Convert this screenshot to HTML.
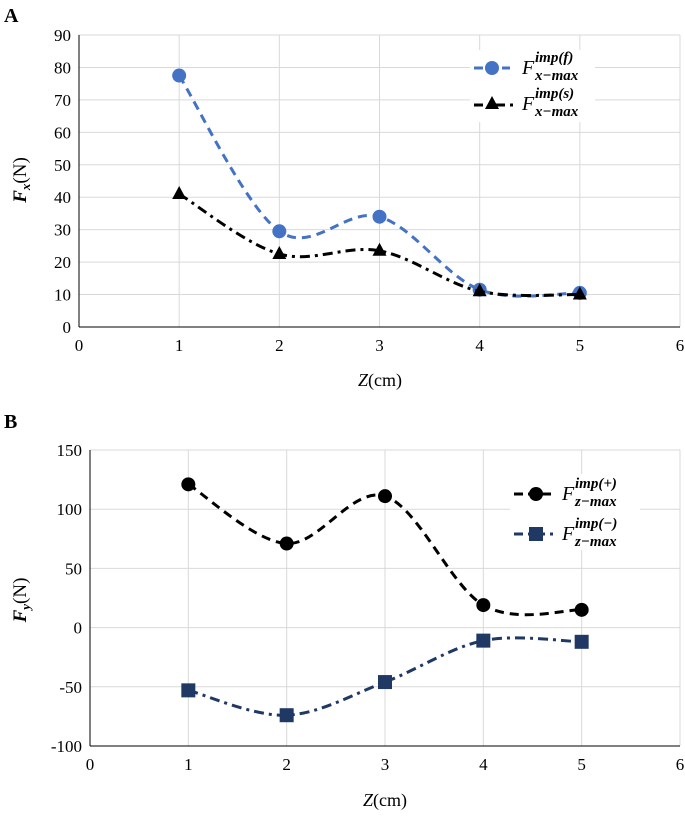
<!DOCTYPE html>
<html><head><meta charset="utf-8"><style>
body{margin:0;background:#fff}
svg text{font-family:"Liberation Serif",serif}
</style></head><body>
<svg id="s" width="685" height="814" xmlns="http://www.w3.org/2000/svg"></svg>
<script>
const xCats=[1,2,3,4,5];
const aF=[77.5,29.5,34,11.5,10.5];
const aS=[41,22.5,23.5,11,10];
const bP=[121,71,111,19,15];
const bM=[-53,-74,-46,-11,-12];
const aTicks=[0,10,20,30,40,50,60,70,80,90];
const bTicks=[-100,-50,0,50,100,150];
const xTicks=[0,1,2,3,4,5,6];
const NS='http://www.w3.org/2000/svg';
const svg=document.getElementById('s');
function mk(t,a,p){const e=document.createElementNS(NS,t);for(const k in a)e.setAttribute(k,a[k]);(p||svg).appendChild(e);return e;}
function spline(pts){let d='M'+pts[0][0]+','+pts[0][1];for(let i=0;i<pts.length-1;i++){const p0=pts[Math.max(0,i-1)],p1=pts[i],p2=pts[i+1],p3=pts[Math.min(pts.length-1,i+2)];const c1=[p1[0]+(p2[0]-p0[0])/6,p1[1]+(p2[1]-p0[1])/6],c2=[p2[0]-(p3[0]-p1[0])/6,p2[1]-(p3[1]-p1[1])/6];d+=` C${c1[0]},${c1[1]} ${c2[0]},${c2[1]} ${p2[0]},${p2[1]}`;}return d;}
function chart(o){
 const g=mk('g',{});
 const X=v=>o.x0+(v-0)*(o.x1-o.x0)/6, Y=v=>o.y0-(v-o.ymin)*(o.y0-o.y1)/(o.ymax-o.ymin);
 o.yt.forEach(t=>{const l=mk('line',{x1:o.x0,x2:o.x1,y1:Y(t),y2:Y(t),stroke:'#d9d9d9','stroke-width':1},g);
  const tx=mk('text',{x:o.x0-8,y:Y(t)+6,'text-anchor':'end','font-size':17},g);tx.textContent=t;});
 xTicks.forEach(t=>{const l=mk('line',{x1:X(t),x2:X(t),y1:o.y1,y2:o.y0,stroke:'#d9d9d9'},g);
  const tx=mk('text',{x:X(t),y:o.y0+24,'text-anchor':'middle','font-size':17},g);tx.textContent=t;});
 mk('line',{x1:o.x0,x2:o.x0,y1:o.y1,y2:o.y0,stroke:'#000'},g);
 mk('line',{x1:o.x0,x2:o.x1,y1:Y(o.axisAt),y2:Y(o.axisAt),stroke:'#000'},g);
 o.series.forEach(s=>{const pts=xCats.map((c,i)=>[X(c),Y(s.v[i])]);
  const p=mk('path',{d:spline(pts),fill:'none',stroke:s.c,'stroke-width':3,'stroke-dasharray':s.dash},g);
  pts.forEach(q=>{let m;if(s.m=='c')m=mk('circle',{cx:q[0],cy:q[1],r:7,fill:s.c},g);else if(s.m=='t')m=mk('polygon',{points:`${q[0]},${q[1]-8} ${q[0]-7},${q[1]+5} ${q[0]+7},${q[1]+5}`,fill:s.c},g);else m=mk('rect',{x:q[0]-7,y:q[1]-7,width:14,height:14,fill:s.c},g);});
 });
}
chart({name:'chart-a',x0:79,x1:680,y0:327,y1:35,ymin:0,ymax:90,yt:aTicks,axisAt:0,series:[
 {name:'fx-f',v:aF,c:'#4472c4',dash:'9,6',m:'c'},{name:'fx-s',v:aS,c:'#000',dash:'10,5,3,5',m:'t'}]});
chart({name:'chart-b',x0:90,x1:680,y0:746,y1:450,ymin:-100,ymax:150,yt:bTicks,axisAt:-100,series:[
 {name:'fz-plus',v:bP,c:'#000',dash:'9,6',m:'c'},{name:'fz-minus',v:bM,c:'#1f3864',dash:'10,5,3,5',m:'s'}]});
</script>
<svg width="685" height="814" style="position:absolute;left:0;top:0" xmlns="http://www.w3.org/2000/svg">
<text x="4" y="22" font-size="20" font-weight="bold">A</text>
<text x="4" y="428" font-size="20" font-weight="bold">B</text>
<text transform="translate(26,180) rotate(-90)" text-anchor="middle" font-size="19"><tspan font-weight="bold" font-style="italic">F</tspan><tspan font-weight="bold" font-style="italic" font-size="13" dy="4">x</tspan><tspan dy="-4">(N)</tspan></text>
<text transform="translate(26,600) rotate(-90)" text-anchor="middle" font-size="19"><tspan font-weight="bold" font-style="italic">F</tspan><tspan font-weight="bold" font-style="italic" font-size="13" dy="4">y</tspan><tspan dy="-4">(N)</tspan></text>
<text x="380" y="386" text-anchor="middle" font-size="18"><tspan font-style="italic">Z</tspan>(cm)</text>
<text x="385" y="806" text-anchor="middle" font-size="18"><tspan font-style="italic">Z</tspan>(cm)</text>
<g>
<rect x="470" y="50" width="125" height="72" fill="#fff"/>
<line x1="474" x2="510" y1="68" y2="68" stroke="#4472c4" stroke-width="3" stroke-dasharray="9,5"/><circle cx="492" cy="68" r="7" fill="#4472c4"/>
<text x="522" y="74" font-size="20" font-style="italic">F</text><text x="535" y="62" font-size="15" font-style="italic" font-weight="bold">imp(f)</text><text x="535" y="80" font-size="15" font-style="italic" font-weight="bold">x−max</text>
<line x1="474" x2="518" y1="105" y2="105" stroke="#000" stroke-width="3" stroke-dasharray="9,5,3,5"/><polygon points="492,96 485,109 499,109" fill="#000"/>
<text x="522" y="110" font-size="20" font-style="italic">F</text><text x="535" y="98" font-size="15" font-style="italic" font-weight="bold">imp(s)</text><text x="535" y="116" font-size="15" font-style="italic" font-weight="bold">x−max</text>
</g>
<g>
<rect x="510" y="474" width="130" height="76" fill="#fff"/>
<line x1="514" x2="556" y1="494" y2="494" stroke="#000" stroke-width="3" stroke-dasharray="9,5"/><circle cx="536" cy="494" r="7" fill="#000"/>
<text x="562" y="500" font-size="20" font-style="italic">F</text><text x="575" y="488" font-size="15" font-style="italic" font-weight="bold">imp(+)</text><text x="575" y="506" font-size="15" font-style="italic" font-weight="bold">z−max</text>
<line x1="514" x2="556" y1="534" y2="534" stroke="#1f3864" stroke-width="3" stroke-dasharray="9,5,3,5"/><rect x="529" y="527" width="14" height="14" fill="#1f3864"/>
<text x="562" y="540" font-size="20" font-style="italic">F</text><text x="575" y="528" font-size="15" font-style="italic" font-weight="bold">imp(−)</text><text x="575" y="546" font-size="15" font-style="italic" font-weight="bold">z−max</text>
</g>
</svg>
</body></html>
